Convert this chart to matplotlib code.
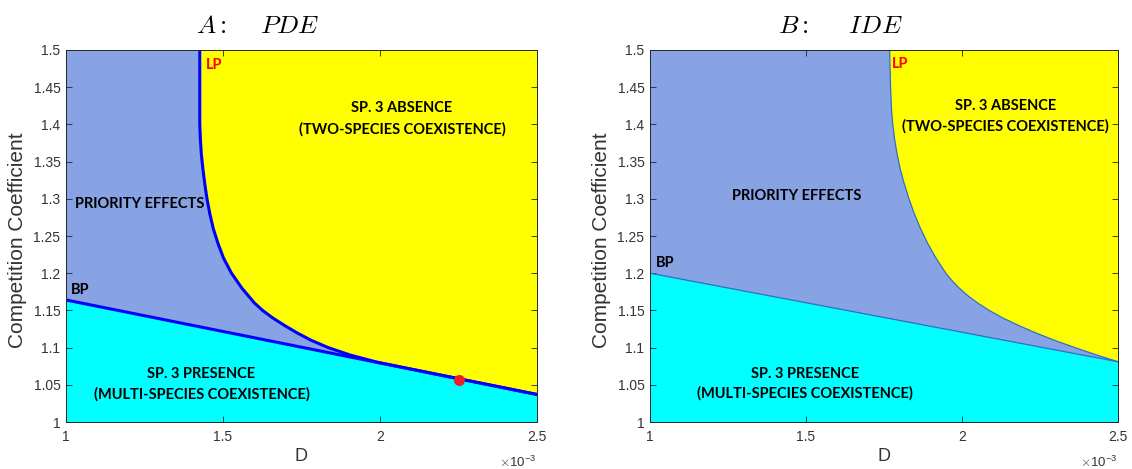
import matplotlib
matplotlib.use("Agg")
import matplotlib.pyplot as plt
import matplotlib.transforms as mtransforms
from matplotlib.ticker import FixedLocator, FuncFormatter

plt.rcParams["mathtext.fontset"] = "cm"
plt.rcParams["font.family"] = ["Liberation Sans", "DejaVu Sans"]

# Axis ranges: dispersal rate D (in units of 1e-3) and competition coefficient
d_range = [1.0, 2.5]
alpha_range = [1.0, 1.5]
d_ticks = [1.0, 1.5, 2.0, 2.5]
alpha_ticks = [1.0, 1.05, 1.1, 1.15, 1.2, 1.25, 1.3, 1.35, 1.4, 1.45, 1.5]

# Panel A (PDE): branch-point line and limit-point curve
pde_bp_d = [1.0, 2.5]
pde_bp_alpha = [1.164, 1.037]
pde_lp_d = [1.426, 1.426, 1.428, 1.431, 1.436, 1.442, 1.449, 1.458, 1.469,
            1.484, 1.502, 1.527, 1.560, 1.600, 1.626, 1.658, 1.695, 1.735,
            1.780, 1.835, 1.905, 1.990, 2.050]
pde_lp_alpha = [1.50, 1.40, 1.38, 1.36, 1.34, 1.32, 1.30, 1.28, 1.26,
                1.24, 1.22, 1.20, 1.18, 1.16, 1.15, 1.14, 1.13, 1.12,
                1.11, 1.10, 1.09, 1.0805, 1.0753]
pde_dot_d = 2.25
pde_dot_alpha = 1.057

# Panel B (IDE): branch-point line and limit-point curve
ide_bp_d = [1.0, 2.5]
ide_bp_alpha = [1.2, 1.081]
ide_lp_d = [1.768, 1.771, 1.774, 1.778, 1.784, 1.792, 1.802, 1.815, 1.830,
            1.847, 1.867, 1.890, 1.917, 1.948, 1.968, 1.991, 2.018, 2.050,
            2.087, 2.130, 2.180, 2.235, 2.295, 2.362, 2.432, 2.500]
ide_lp_alpha = [1.50, 1.45, 1.42, 1.40, 1.38, 1.36, 1.34, 1.32, 1.30,
                1.28, 1.26, 1.24, 1.22, 1.20, 1.19, 1.18, 1.17, 1.16,
                1.15, 1.14, 1.13, 1.12, 1.11, 1.10, 1.09, 1.081]

PRIORITY_BLUE = "#87A3E4"
ABSENCE_YELLOW = "#FFFF00"
PRESENCE_CYAN = "#00FFFF"
AX_GRAY = "#262626"

region_font = dict(family="Lato", fontweight="bold", fontsize=10.5)

fig = plt.figure(figsize=(11.32, 4.69), dpi=100)
ax_a = fig.add_axes([66 / 1132, 47 / 469, 471 / 1132, 372 / 469])
ax_b = fig.add_axes([650 / 1132, 47 / 469, 468 / 1132, 372 / 469])


def draw_regions(ax, bp_d, bp_a, lp_d, lp_a, line_color, lw):
    ax.set_facecolor(PRIORITY_BLUE)
    ax.fill(list(lp_d) + [bp_d[-1], bp_d[-1]],
            list(lp_a) + [bp_a[-1], alpha_range[1]],
            color=ABSENCE_YELLOW, lw=0, zorder=1)
    ax.fill_between(bp_d, alpha_range[0], bp_a, color=PRESENCE_CYAN, lw=0, zorder=1)
    ax.plot(list(lp_d) + [bp_d[-1]], list(lp_a) + [bp_a[-1]],
            color=line_color, lw=lw, zorder=3, solid_joinstyle="round")
    ax.plot(bp_d, bp_a, color=line_color, lw=lw, zorder=3)


def style_axes(ax, title):
    ax.set_xlim(d_range)
    ax.set_ylim(alpha_range)
    ax.xaxis.set_major_locator(FixedLocator(d_ticks))
    ax.yaxis.set_major_locator(FixedLocator(alpha_ticks))
    fmt = FuncFormatter(lambda v, _: f"{v:g}")
    ax.xaxis.set_major_formatter(fmt)
    ax.yaxis.set_major_formatter(fmt)
    ax.tick_params(direction="in", top=True, right=True, length=4, width=0.6,
                   color=AX_GRAY, labelcolor="#333333", labelsize=10)
    ax.tick_params(axis="x", pad=6)
    ax.tick_params(axis="y", pad=4)
    for s in ax.spines.values():
        s.set_color(AX_GRAY)
        s.set_linewidth(0.7)
        s.set_zorder(5)
    ax.text(0.5, -0.094, "D", transform=ax.transAxes, ha="center", va="center",
            fontsize=13, color="#333333")
    ax.text(-0.104, 0.49, "Competition Coefficient", transform=ax.transAxes,
            rotation=90, ha="center", va="center", fontsize=15, color="#333333")
    ax.text(1.0, -0.108, r"$\times\mathregular{10}^{\mathregular{-3}}$",
            transform=ax.transAxes, ha="right", va="center", fontsize=9.5,
            color="#333333")
    trans = mtransforms.blended_transform_factory(ax.transData, ax.transAxes)
    ax.text(1.61, 1.046, title, transform=trans, ha="center", va="baseline",
            fontsize=18.5)


# Panel A
draw_regions(ax_a, pde_bp_d, pde_bp_alpha, pde_lp_d, pde_lp_alpha, "#0000FF", 2.2)
ax_a.plot([pde_dot_d], [pde_dot_alpha], "o", color="#F01E28", ms=8, zorder=4,
          mec="none")
style_axes(ax_a, r"$A\mathrm{:}\quad\;PDE$")
ax_a.text(1.444, 1.480, "LP", color="red", ha="left", va="center", **region_font)
ax_a.text(1.017, 1.178, "BP", ha="left", va="center", **region_font)
ax_a.text(1.028, 1.293, "PRIORITY EFFECTS", ha="left", va="center", **region_font)
ax_a.text(2.07, 1.422, "SP. 3 ABSENCE", ha="center", va="center", **region_font)
ax_a.text(2.07, 1.394, "(TWO-SPECIES COEXISTENCE)", ha="center", va="center", **region_font)
ax_a.text(1.430, 1.064, "SP. 3 PRESENCE", ha="center", va="center", **region_font)
ax_a.text(1.434, 1.037, "(MULTI-SPECIES COEXISTENCE)", ha="center", va="center", **region_font)

# Panel B
draw_regions(ax_b, ide_bp_d, ide_bp_alpha, ide_lp_d, ide_lp_alpha, "#2F6FC8", 0.9)
style_axes(ax_b, r"$B\mathrm{:}\quad\;\;IDE$")
ax_b.text(1.775, 1.481, "LP", color="red", ha="left", va="center", **region_font)
ax_b.text(1.018, 1.214, "BP", ha="left", va="center", **region_font)
ax_b.text(1.47, 1.304, "PRIORITY EFFECTS", ha="center", va="center", **region_font)
ax_b.text(2.14, 1.425, "SP. 3 ABSENCE", ha="center", va="center", **region_font)
ax_b.text(2.14, 1.398, "(TWO-SPECIES COEXISTENCE)", ha="center", va="center", **region_font)
ax_b.text(1.497, 1.064, "SP. 3 PRESENCE", ha="center", va="center", **region_font)
ax_b.text(1.498, 1.038, "(MULTI-SPECIES COEXISTENCE)", ha="center", va="center", **region_font)

fig.savefig("out.png", dpi=100, facecolor="white")
